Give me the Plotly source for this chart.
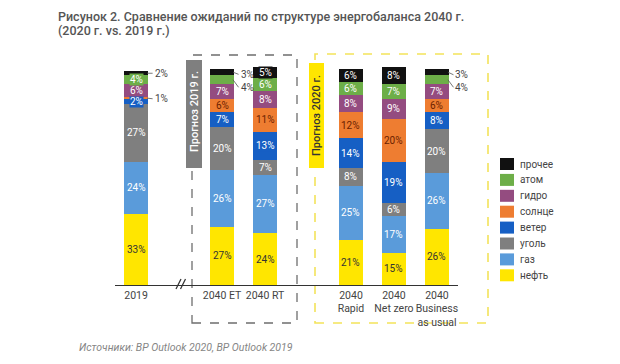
import plotly.graph_objects as go

# ---------------- data ----------------
categories = ["2019", "2040 ET", "2040 RT", "2040 Rapid", "2040 Net zero", "2040 Business as usual"]
tick_labels = ["2019", "2040 ET", "2040 RT", "2040<br>Rapid", "2040<br>Net zero", "2040<br>Business<br>as usual"]

series_names = ["нефть", "газ", "уголь", "ветер", "солнце", "гидро", "атом", "прочее"]
oil     = [33, 27, 24, 21, 15, 26]
gas     = [24, 26, 27, 25, 17, 26]
coal    = [27, 20,  7,  8,  6, 20]
wind    = [ 2,  7, 13, 14, 19,  8]
solar   = [ 1,  6, 11, 12, 20,  6]
hydro   = [ 6,  7,  8,  8,  9,  7]
nuclear = [ 4,  4,  6,  6,  7,  4]
other   = [ 2,  3,  5,  6,  8,  3]
series_values = [oil, gas, coal, wind, solar, hydro, nuclear, other]

title_lines = ["Рисунок 2. Сравнение ожиданий по структуре энергобаланса 2040 г.",
               "(2020 г. vs. 2019 г.)"]
source_text = "Источники: BP Outlook 2020, BP Outlook 2019"
label_2019 = "Прогноз 2019 г."
label_2020 = "Прогноз 2020 г."

# ---------------- style ----------------
x_pos = [0, 2, 3, 5, 6, 7]
colors = ["#FFE600", "#5A9BDA", "#7F7F7F", "#165FC4", "#EE7D31", "#944C80", "#6DAE48", "#111111"]
text_colors = ["#333333", "#FFFFFF", "#FFFFFF", "#FFFFFF", "#6B2200", "#FFFFFF", "#FFFFFF", "#FFFFFF"]
# labels drawn outside the bar: (category index, series index) -> vertical shift (units)
outside = {(0, 7): 0.0, (0, 4): -0.3, (1, 7): -1.0, (1, 6): -3.5, (5, 7): -1.2, (5, 6): -3.5}
FONT = "Roboto"
BAR_W = 0.55

W, H = 620, 364
ML, MR, MT, MB = 115, 162, 59, 79
PW, PH = W - ML - MR, H - MT - MB
Y_MAX = 104.6


def px_x(px):
    return (px - ML) / PW


def px_y(py):
    return (H - MB - py) / PH


fig = go.Figure()
for name, vals, col in zip(series_names, series_values, colors):
    fig.add_trace(go.Bar(
        x=x_pos, y=vals, name=name, width=BAR_W,
        marker=dict(color=col, line=dict(width=0)),
        showlegend=False, hoverinfo="name+y",
    ))

annotations = []
shapes = []

# segment labels
for ci, xp in enumerate(x_pos):
    cum = 0
    for si, vals in enumerate(series_values):
        v = vals[ci]
        yc = cum + v / 2
        if (ci, si) in outside:
            ly = yc + outside[(ci, si)]
            x_edge = xp + BAR_W / 2
            x_lab = xp + BAR_W / 2 + 0.11
            shapes.append(dict(type="line", xref="x", yref="y",
                               x0=x_edge - 0.02, y0=yc, x1=x_lab, y1=ly,
                               line=dict(color="#555555", width=0.8)))
            annotations.append(dict(x=x_lab, y=ly, xref="x", yref="y",
                                    text=f"{v}%", showarrow=False, xanchor="left",
                                    yanchor="middle",
                                    font=dict(family=FONT, size=10, color="#444444")))
        else:
            annotations.append(dict(x=xp, y=yc, xref="x", yref="y",
                                    text=f"{v}%", showarrow=False,
                                    xanchor="center", yanchor="middle",
                                    bgcolor=colors[si], borderpad=0,
                                    font=dict(family=FONT, size=10, color=text_colors[si])))
        cum += v

# dashed group boxes
shapes.append(dict(type="rect", xref="paper", yref="paper",
                   x0=px_x(192), x1=px_x(297), y0=px_y(323), y1=px_y(55),
                   line=dict(color="#6E6E6E", width=1.3, dash="dash"), layer="below"))
shapes.append(dict(type="rect", xref="paper", yref="paper",
                   x0=px_x(315), x1=px_x(488), y0=px_y(323), y1=px_y(54),
                   line=dict(color="#F3E35A", width=1.6, dash="dash"), layer="below"))

# group labels
shapes.append(dict(type="rect", xref="paper", yref="paper",
                   x0=px_x(186), x1=px_x(202), y0=px_y(168), y1=px_y(60),
                   fillcolor="#7F7F7F", line=dict(width=0)))
annotations.append(dict(x=px_x(194), y=px_y(112), xref="paper", yref="paper",
                        xanchor="center", yanchor="middle",
                        text=label_2019, textangle=-90, showarrow=False,
                        font=dict(family=FONT, size=11, color="#FFFFFF", weight=500)))
shapes.append(dict(type="rect", xref="paper", yref="paper",
                   x0=px_x(309), x1=px_x(324), y0=px_y(168), y1=px_y(63),
                   fillcolor="#FFE600", line=dict(width=0)))
annotations.append(dict(x=px_x(316.5), y=px_y(115.5), xref="paper", yref="paper",
                        xanchor="center", yanchor="middle",
                        text=label_2020, textangle=-90, showarrow=False,
                        font=dict(family=FONT, size=11, color="#333333", weight=500)))

# axis break marks
for bx in (176, 180.5):
    shapes.append(dict(type="line", xref="paper", yref="paper",
                       x0=px_x(bx), y0=px_y(289), x1=px_x(bx + 5), y1=px_y(279),
                       line=dict(color="#333333", width=1.2)))

# legend (top = прочее)
for k, si in enumerate(reversed(range(len(series_names)))):
    cy = 164 + k * 15.9
    shapes.append(dict(type="rect", xref="paper", yref="paper",
                       x0=px_x(500), x1=px_x(514), y0=px_y(cy + 6), y1=px_y(cy - 6),
                       fillcolor=colors[si], line=dict(width=0)))
    annotations.append(dict(x=px_x(518), y=px_y(cy), xref="paper", yref="paper",
                            text=series_names[si], showarrow=False, xanchor="left",
                            yanchor="middle",
                            font=dict(family=FONT, size=10, color="#444444")))

# title (two lines)
for line, cy in zip(title_lines, (16.5, 30.5)):
    annotations.append(dict(x=px_x(56), y=px_y(cy), xref="paper", yref="paper",
                            text=line, showarrow=False, xanchor="left", yanchor="middle",
                            font=dict(family=FONT, size=12.5, color="#555555", weight=500)))

# source
annotations.append(dict(x=px_x(77), y=px_y(347), xref="paper", yref="paper",
                        text=f"<i>{source_text}</i>", showarrow=False, xanchor="left",
                        yanchor="middle",
                        font=dict(family=FONT, size=10.5, color="#858585")))

fig.update_layout(
    width=W, height=H,
    margin=dict(l=ML, r=MR, t=MT, b=MB),
    barmode="stack", bargap=0,
    paper_bgcolor="white", plot_bgcolor="white",
    xaxis=dict(range=[-0.49, 7.49], tickvals=x_pos, ticktext=tick_labels,
               showline=True, linecolor="#333333", linewidth=1.2,
               showgrid=False, zeroline=False, ticks="",
               tickfont=dict(family=FONT, size=10.5, color="#444444"),
               fixedrange=True),
    yaxis=dict(range=[0, Y_MAX], visible=False, showgrid=False, zeroline=False,
               fixedrange=True),
    shapes=shapes,
    annotations=annotations,
    showlegend=False,
)

fig.write_html("out.html", config={"displayModeBar": False},
               post_script="document.body.style.margin='0';")
